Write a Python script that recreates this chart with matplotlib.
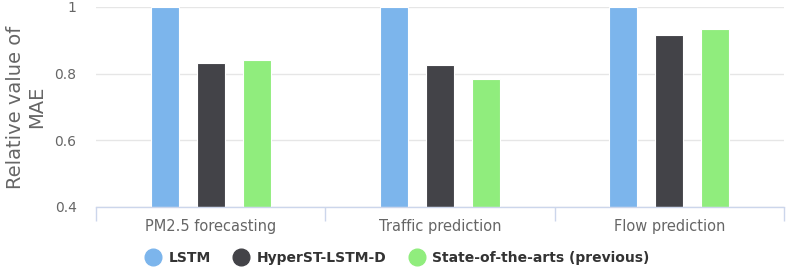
import numpy as np
import matplotlib.pyplot as plt
from matplotlib.lines import Line2D

categories = ['PM2.5 forecasting', 'Traffic prediction', 'Flow prediction']
series_names = ['LSTM', 'HyperST-LSTM-D', 'State-of-the-arts (previous)']
lstm = [1.0, 1.0, 1.0]
hyperst = [0.832, 0.826, 0.916]
sota = [0.841, 0.784, 0.934]
yticks = [0.4, 0.6, 0.8, 1.0]
ytick_labels = ['0.4', '0.6', '0.8', '1']

colors = ['#7cb5ec', '#434348', '#90ed7d']

fig = plt.figure(figsize=(7.89, 2.76), dpi=100)
ax = fig.add_axes([96 / 789, 1 - 207 / 276, (784 - 96) / 789, 200 / 276])

x = np.arange(len(categories))
width = 0.122
offsets = [-0.2, 0, 0.2]
for vals, off, c in zip([lstm, hyperst, sota], offsets, colors):
    ax.bar(x + off, np.array(vals) - 0.4, width, bottom=0.4, color=c,
           edgecolor='white', linewidth=0.8, zorder=3)

ax.set_xlim(-0.5, len(categories) - 0.5)
ax.set_ylim(0.4, 1.0)

# gridlines
ax.set_yticks(yticks)
ax.set_yticklabels(ytick_labels)
ax.yaxis.grid(True, color='#e6e6e6', linewidth=1, zorder=0)
ax.tick_params(axis='y', length=0, labelsize=10, labelcolor='#666666', pad=14)

# category ticks at boundaries, labels at centres
ax.set_xticks(np.arange(-0.5, len(categories)), minor=False)
ax.set_xticklabels([''] * (len(categories) + 1))
ax.tick_params(axis='x', which='major', length=10, color='#ccd6eb', width=1)
ax.set_xticks(x, minor=True)
ax.set_xticklabels(categories, minor=True)
ax.tick_params(axis='x', which='minor', length=0, labelsize=10.5,
               labelcolor='#666666', pad=9)

for s in ['top', 'right', 'left']:
    ax.spines[s].set_visible(False)
ax.spines['bottom'].set_color('#ccd6eb')
ax.spines['bottom'].set_linewidth(1)
ax.spines['bottom'].set_zorder(4)

ax.set_ylabel('Relative value of\nMAE', fontsize=14, color='#666666',
              labelpad=6, linespacing=1.15)

handles = [Line2D([], [], marker='o', linestyle='', markersize=12,
                  markerfacecolor=c, markeredgecolor=c) for c in colors]
leg = fig.legend(handles, series_names, loc='center', bbox_to_anchor=(0.5, 1 - 258 / 276),
                 ncol=3, frameon=False, handletextpad=0.1, columnspacing=1.2,
                 prop={'size': 10, 'weight': 'bold'})
for t in leg.get_texts():
    t.set_color('#333333')

fig.savefig('out.png', dpi=100)
